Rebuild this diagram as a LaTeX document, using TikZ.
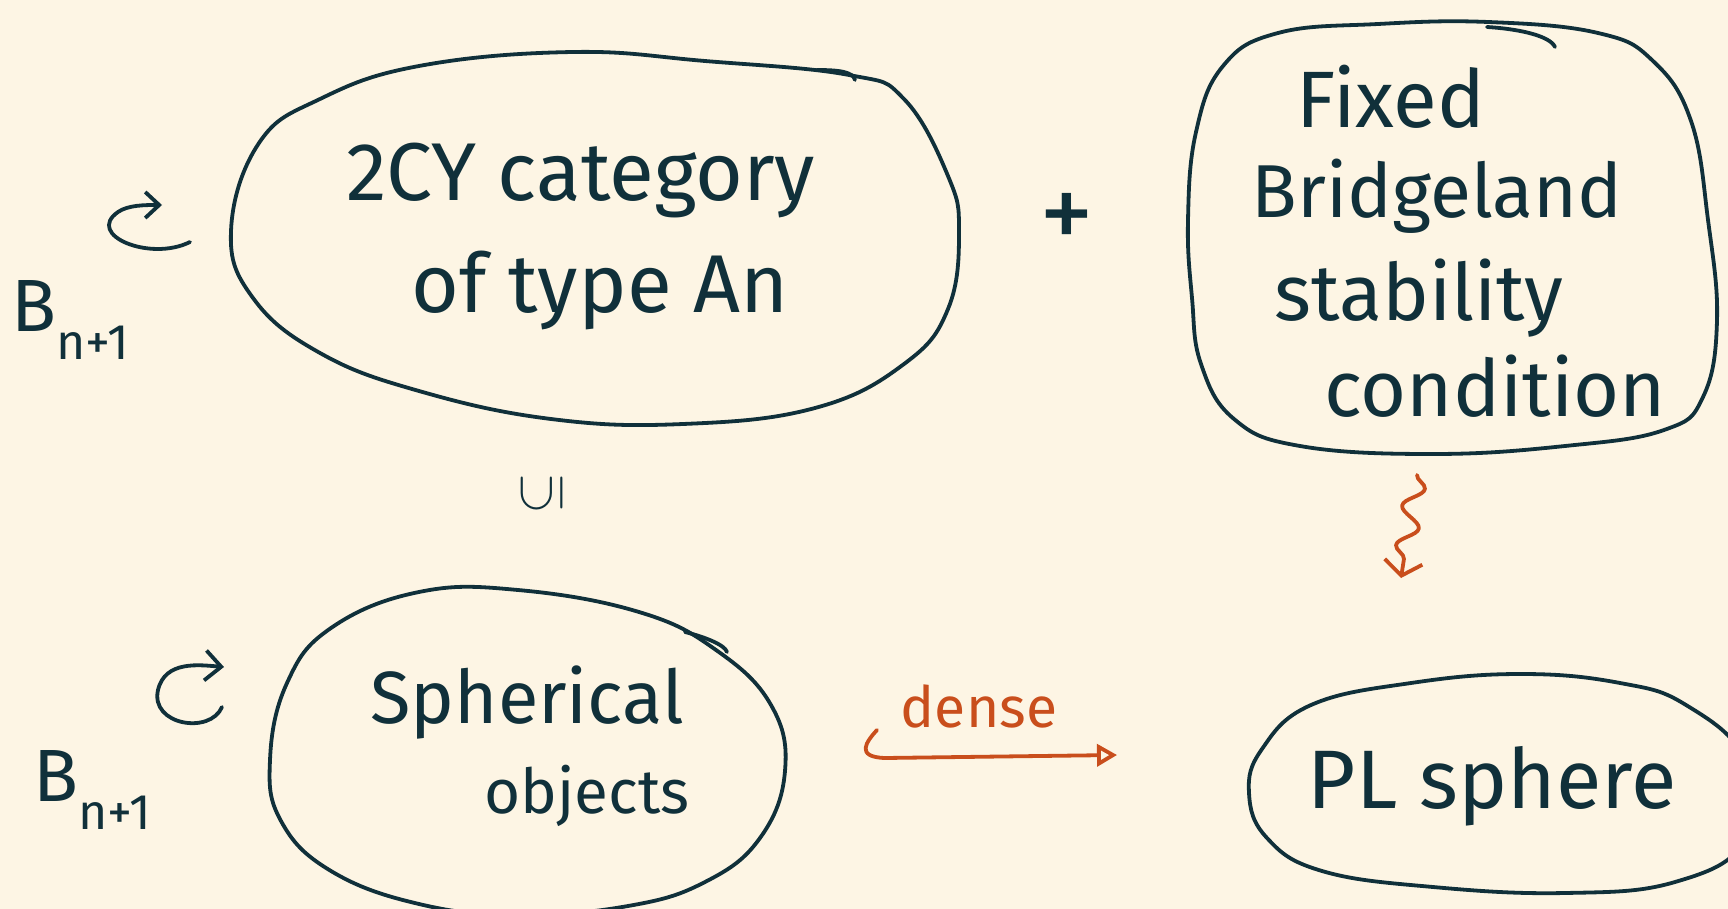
\documentclass[tikz,border=0pt]{standalone}
\usepackage{fontspec}
\setmainfont{Fira Sans}
\usetikzlibrary{arrows.meta,decorations.pathmorphing}
\definecolor{bg}{HTML}{FDF5E4}
\definecolor{ink}{HTML}{10303A}
\definecolor{rust}{HTML}{C94E1C}
\tikzset{
  blob/.style={draw=ink, line width=3.8pt, line join=round},
  hand/.style={text=ink, inner sep=0pt},
  small/.style={text=rust, inner sep=0pt, font=\fontsize{57}{57}\selectfont},
  inkline/.style={draw=ink, line width=3.8pt, line cap=round, line join=round},
  rustline/.style={draw=rust, line width=3.8pt, line cap=round, line join=round},
}
\newcommand{\fs}[1]{\fontsize{#1}{#1}\selectfont}
\newcommand{\braid}{B\raisebox{-0.38em}{\fontsize{50}{50}\selectfont n+1}}
\begin{document}
\begin{tikzpicture}[x=1pt,y=-1pt]
\fill[bg] (0,0) rectangle (1728,909);
\useasboundingbox (0,0) rectangle (1728,909);
\clip (0,0) rectangle (1728,909);

% top-left blob
\draw[blob] plot[smooth cycle, tension=0.7] coordinates {
 (231,231) (259,143) (320,99) (419,66) (573,52) (705,61) (849,75) (904,99)
 (948,176) (959,231) (948,309) (904,364) (815,408) (683,424) (551,419)
 (419,391) (320,353) (253,298)};
\draw[inkline] (817,70) .. controls (840,70) and (853,72) .. (855,80);
% top-right blob
\draw[blob] plot[smooth cycle, tension=0.7] coordinates {
 (1188,220) (1196,132) (1223,66) (1278,33) (1378,24) (1488,22) (1598,33)
 (1653,61) (1691,121) (1708,220) (1717,320) (1703,397) (1664,430)
 (1565,446) (1433,454) (1300,446) (1234,419) (1201,364) (1192,298)};
\draw[inkline] (1487,27) .. controls (1520,29) and (1550,36) .. (1555,47);
% bottom-left blob
\draw[blob] plot[smooth cycle, tension=0.7] coordinates {
 (270,760) (287,683) (331,628) (419,592) (518,590) (639,612) (716,650)
 (771,705) (785,771) (760,838) (705,882) (628,906) (518,915) (419,904)
 (331,871) (281,821)};
\draw[inkline] (685,632) .. controls (705,637) and (725,645) .. (727,652);
% bottom-right blob
\draw[blob] plot[smooth cycle, tension=0.7] coordinates {
 (1249,793) (1262,749) (1311,705) (1411,683) (1521,674) (1620,683)
 (1686,705) (1745,760) (1745,840) (1675,882) (1565,893) (1433,887)
 (1322,871) (1267,838)};

% texts
\node[hand, font=\fs{82}] (t1) at (581,180) {2CY category};
\node[hand, font=\fs{82}] (t2) at (600,290) {of type An};
\node[hand, font=\fs{80}] (f1) at (1391,97) {Fixed};
\node[hand, font=\fs{75}] (f2) at (1437,196) {Bridgeland};
\node[hand, font=\fs{79}] (f3) at (1419,298) {stability};
\node[hand, font=\fs{79}] (f4) at (1495,386) {condition};
\node[hand, font=\fs{74}] (s1) at (527,703) {Spherical};
\node[hand, font=\fs{62}] (s2) at (587,796) {objects};
\node[hand, font=\fs{83}] (p1) at (1492,786) {PL sphere};
\node[hand, font=\fs{110}] (plus) at (1067,222) {+};
\node[hand] (sub) at (542,493) {\resizebox{!}{42pt}{\rotatebox{90}{$\subseteq$}}};
\node[hand, font=\fs{74}] (b1) at (70,320) {\braid};
\node[hand, font=\fs{74}] (b2) at (92,790) {\braid};
\node[small] (dense) at (979,706) {dense};

% circular arrows
\coordinate (c1a) at (190,242);
\coordinate (c1b) at (162,205);
\draw[inkline, -{Straight Barb[length=14pt,width=26pt,line width=3.8pt]}]
  (c1a) .. controls (150,262) and (85,235) .. (118,212)
        .. controls (128,205) and (145,205) .. (c1b);
\coordinate (c2a) at (222,707);
\coordinate (c2b) at (224,667);
\draw[inkline, -{Straight Barb[length=16pt,width=30pt,line width=3.8pt]}]
  (c2a) .. controls (210,735) and (150,725) .. (158,690)
        .. controls (165,660) and (200,665) .. (c2b);

% dense arrow
\coordinate (d0) at (877,730);
\coordinate (d1) at (1117,755);
\draw[rustline, -{Triangle[open,length=20pt,width=22pt,line width=3.8pt]}]
  (d0) .. controls (866,742) and (855,757) .. (885,758) -- (d1);

% wavy arrow
\coordinate (w0) at (1417,475);
\coordinate (w1) at (1401,578);
\draw[rustline, -{Straight Barb[length=14pt,width=38pt,line width=3.8pt]},
  decorate, decoration={snake, amplitude=10pt, segment length=40pt, post length=14pt}]
  (w0) -- (w1);
\end{tikzpicture}
\end{document}
